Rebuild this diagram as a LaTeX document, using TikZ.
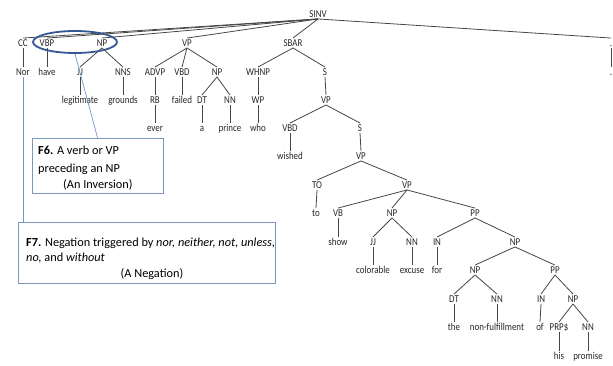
\documentclass[tikz,border=0pt]{standalone}
\usepackage{fontspec}
\setmainfont{Carlito}
\newfontfamily\treefont[FakeStretch=0.85]{Carlito}
\usepackage{tikz}
\usetikzlibrary{shapes.geometric}
\definecolor{treeline}{RGB}{70,70,70}
\definecolor{ringblue}{RGB}{52,88,145}
\definecolor{boxblue}{RGB}{125,150,190}
\definecolor{pointblue}{RGB}{110,150,210}

\begin{document}
\begin{tikzpicture}[x=1pt, y=-1pt,
  lab/.style={inner sep=1.5pt, text height=6.5pt, text depth=0pt, text=black!85,
              font=\treefont\fontsize{10.5}{11}\selectfont},
  branch/.style={draw=treeline, line width=0.8pt},
  note/.style={draw=boxblue, line width=0.8pt, inner sep=0pt},
  notetext/.style={inner sep=0pt, anchor=mid west, font=\fontsize{12.3}{14}\selectfont}]
\useasboundingbox (0,0) rectangle (613,365);

%tree labels
\foreach \n/\x/\y/\t in {
  sinv/318/14/SINV,
  cc/23/43/CC, vbp/47/43/VBP, np1/102/43/NP, vp1/187/43/VP, sbar/293/43/SBAR, dot1/611/43/.,
  nor/23/72/Nor, have/47/72/have, jj1/80/72/JJ, nns/123/72/NNS, advp/155/72/ADVP,
  vbd1/182/72/VBD, np2/217/72/NP, whnp/258/72/WHNP, s1/325/72/S, dot2/611/72/.,
  legit/80/100/legitimate, grounds/123/100/grounds, rb/155/100/RB, failed/182/100/failed,
  dt1/202/100/DT, nn1/230/100/NN, wp/258/100/WP, vp2/326/100/VP,
  ever/155/128/ever, art/202/128/a, prince/230/128/prince, who/258/128/who,
  vbd2/290/128/VBD, s2/360/128/S,
  wished/290/156/wished, vp3/361/156/VP,
  to1/317/185/TO, vp4/407/185/VP,
  to2/316/213/to, vb/338/213/VB, np3/392/213/NP, pp1/475/213/PP,
  show/338/242/show, jj2/373/242/JJ, nn2/412/242/NN, in1/437/242/IN, np4/515/242/NP,
  color/373/270/colorable, excuse/412/270/excuse, for/437/270/for, np5/475/270/NP, pp2/555/270/PP,
  dt2/454/299/DT, nn3/497/299/NN, in2/541/299/IN, np6/573/299/NP,
  the/454/327/the, nonf/497/327/non-fulfillment, of/540/327/of, prp/559/327/PRP\$, nn4/588/327/NN,
  his/559/356/his, promise/588/356/promise}
{ \node[lab] (\n) at (\x,\y) {\t}; }

%branches
\foreach \p/\c in {
  sinv/cc, sinv/vbp, sinv/np1, sinv/vp1, sinv/sbar, sinv/dot1, dot1/dot2,
  cc/nor, vbp/have, np1/jj1, np1/nns, jj1/legit, nns/grounds,
  vp1/advp, vp1/vbd1, vp1/np2, advp/rb, rb/ever, vbd1/failed,
  np2/dt1, np2/nn1, dt1/art, nn1/prince,
  sbar/whnp, sbar/s1, whnp/wp, wp/who, s1/vp2, vp2/vbd2, vp2/s2, vbd2/wished,
  s2/vp3, vp3/to1, vp3/vp4, to1/to2,
  vp4/vb, vp4/np3, vp4/pp1, vb/show, np3/jj2, np3/nn2, jj2/color, nn2/excuse,
  pp1/in1, pp1/np4, in1/for, np4/np5, np4/pp2, np5/dt2, np5/nn3, dt2/the, nn3/nonf,
  pp2/in2, pp2/np6, in2/of, np6/prp, np6/nn4, prp/his, nn4/promise}
{ \draw[branch] (\p.south) -- (\c.north); }

%F6 note
\node[draw=ringblue, line width=1.8pt, ellipse, minimum width=84pt, minimum height=22pt]
  (ring) at (75,42) {};
\node[note, minimum width=131pt, minimum height=55pt] (f6) at (97.5,165.5) {};
\node[notetext] (f6a) at (38,152) {\textbf{F6.} A verb or VP};
\node[notetext] (f6b) at (38,170) {preceding an NP};
\node[notetext] (f6c) at (63,186) {(An Inversion)};
\draw[pointblue, line width=0.7pt] (ring.south) -- (f6.north);

%F7 note
\node[note, minimum width=257pt, minimum height=61pt] (f7) at (146.5,252.5) {};
\node[notetext] (f7a) at (26,244) {\textbf{F7.} Negation triggered by \textit{nor, neither, not, unless,}};
\node[notetext] (f7b) at (26,259) {\textit{no,} and \textit{without}};
\node[notetext, anchor=mid] (f7c) at (152,275) {(A Negation)};
\draw[pointblue, line width=0.7pt] (nor.south) -- (nor.south |- f7.north);
\end{tikzpicture}
\end{document}
